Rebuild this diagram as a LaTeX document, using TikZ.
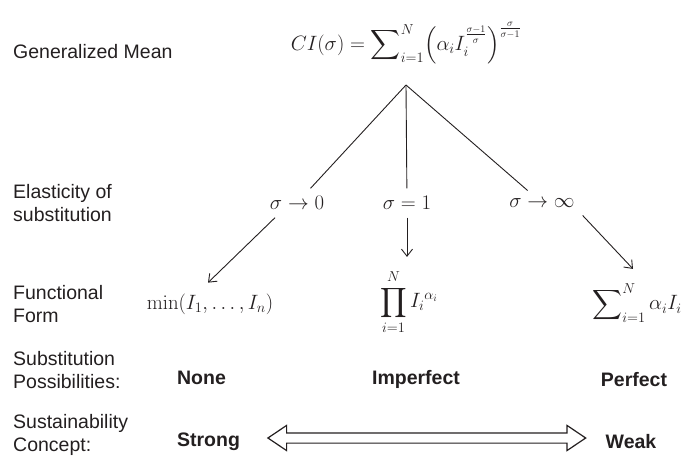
\documentclass[tikz,border=0pt]{standalone}
\usepackage{amsmath}
\usepackage[no-math]{fontspec}
\setmainfont{Liberation Sans}
\usetikzlibrary{arrows.meta,shapes.arrows,calc}

\begin{document}
\begin{tikzpicture}[x=1pt,y=-1pt,
    rowlabel/.style={anchor=west,align=left,inner sep=0pt,
        font=\fontsize{19.5}{23.5}\selectfont},
    mathlbl/.style={font=\fontsize{19.5}{23}\selectfont,inner sep=5pt,outer sep=3pt},
    possib/.style={font=\fontsize{19.5}{23.5}\selectfont\bfseries},
    branch/.style={line width=0.9pt},
    pointer/.style={line width=0.9pt,-{Straight Barb[length=7pt,width=11pt]}}]
    \definecolor{mytext}{RGB}{35,31,32}
    \useasboundingbox (0,0) rectangle (681,463);
    \begin{scope}[every node/.append style={text=mytext}]

    % row labels on the left
    \node[rowlabel] (gmean) at (13,52) {Generalized Mean};
    \node[rowlabel] (elast) at (13,203) {Elasticity of\\substitution};
    \node[rowlabel] (funct) at (13,304) {Functional\\Form};
    \node[rowlabel] (subst) at (13,370) {Substitution\\Possibilities:};
    \node[rowlabel] (susta) at (13,435) {Sustainability\\Concept:};

    % generalized mean and its three limits
    \node[mathlbl] (ci) at (406,43)
        {$CI(\sigma)=\displaystyle\sum\nolimits_{i=1}^{N}
          \Bigl(\alpha_i I_i^{\frac{\sigma-1}{\sigma}}\Bigr)^{\frac{\sigma}{\sigma-1}}$};
    \coordinate (apex) at (406,85);
    \node[mathlbl] (szero) at (297,203) {$\sigma\rightarrow 0$};
    \node[mathlbl] (sone) at (407,203) {$\sigma=1$};
    \node[mathlbl] (sinf) at (542,203) {$\sigma\rightarrow\infty$};

    \node[mathlbl] (fmin) at (210,304) {$\min(I_1,\dots,I_n)$};
    \node[mathlbl] (fprod) at (409,302) {$\displaystyle\prod_{i=1}^{N}{I_i}^{\alpha_i}$};
    \node[mathlbl] (fsum) at (637,303) {$\displaystyle\sum\nolimits_{i=1}^{N}\alpha_i I_i$};

    \draw[branch,mytext] (apex) -- (szero);
    \draw[branch,mytext] (apex) -- (sone);
    \draw[branch,mytext] (apex) -- (sinf);

    \draw[pointer,mytext] ([xshift=-22pt]szero.south) -- ([xshift=-2pt,yshift=3pt]fmin.north);
    \draw[pointer,mytext] (sone.south) -- ([xshift=-2pt,yshift=5pt]fprod.north);
    \draw[pointer,mytext] (sinf.south east) -- ([xshift=-4pt,yshift=7pt]fsum.north);

    % substitution and sustainability
    \node[possib] (none) at (201.5,378) {None};
    \node[possib] (imperf) at (416,379) {Imperfect};
    \node[possib] (perf) at (634,380) {Perfect};
    \node[possib] (strong) at (208.5,442) {Strong};
    \node[possib] (weak) at (631,442) {Weak};
    \end{scope}

    \path let \p1=(strong.east), \p2=(weak.west) in
        node[double arrow, draw=mytext, line width=1.2pt, inner xsep=0pt,
             inner ysep=4.5pt, minimum width=0pt, double arrow head extend=7.5pt,
             double arrow tip angle=68, minimum height={\x2-\x1-41pt}]
        (scale) at ($(strong.east)!0.5!(weak.west)+(4,-4)$) {};
\end{tikzpicture}
\end{document}
